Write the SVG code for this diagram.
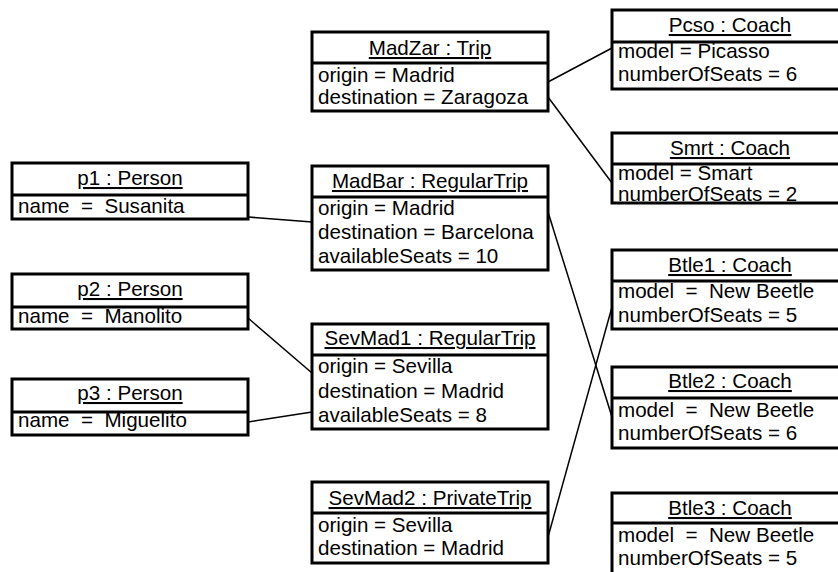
<svg xmlns="http://www.w3.org/2000/svg" width="838" height="572" viewBox="0 0 838 572">
<style>
.box{fill:#fff;stroke:#000;stroke-width:3}
.div{stroke:#000;stroke-width:3}
.t{font-family:"Liberation Sans",Arial,sans-serif;font-size:20.6px;fill:#000}
.ttl{text-anchor:middle;text-decoration:underline}
.a{white-space:pre}
.c{stroke:#000;stroke-width:1.5;fill:none}
</style>
<rect width="838" height="572" fill="#fff"/>
<g id="connectors">
<line class="c" x1="248" y1="217" x2="312" y2="222"/>
<line class="c" x1="248" y1="318" x2="312" y2="373"/>
<line class="c" x1="248" y1="422" x2="312" y2="412"/>
<line class="c" x1="548" y1="82" x2="612" y2="48"/>
<line class="c" x1="548" y1="97" x2="612" y2="183"/>
<line class="c" x1="548" y1="212" x2="612" y2="417"/>
<line class="c" x1="548" y1="537" x2="612" y2="307"/>
</g>
<g id="MadZar">
<rect class="box" x="312" y="32" width="236" height="79"/>
<line class="div" x1="312" y1="63" x2="548" y2="63"/>
<text class="t ttl" x="430" y="55">MadZar : Trip</text>
<text class="t a" x="318" y="82">origin = Madrid</text>
<text class="t a" x="318" y="104">destination = Zaragoza</text>
</g>
<g id="Pcso">
<rect class="box" x="612" y="10" width="236" height="79"/>
<line class="div" x1="612" y1="42" x2="848" y2="42"/>
<text class="t ttl" x="730" y="32">Pcso : Coach</text>
<text class="t a" x="618" y="58">model = Picasso</text>
<text class="t a" x="618" y="81">numberOfSeats = 6</text>
</g>
<g id="Smrt">
<rect class="box" x="612" y="133" width="236" height="70"/>
<line class="div" x1="612" y1="164" x2="848" y2="164"/>
<text class="t ttl" x="730" y="155">Smrt : Coach</text>
<text class="t a" x="618" y="180">model = Smart</text>
<text class="t a" x="618" y="201">numberOfSeats = 2</text>
</g>
<g id="p1">
<rect class="box" x="12" y="163" width="236" height="56"/>
<line class="div" x1="12" y1="195" x2="248" y2="195"/>
<text class="t ttl" x="130" y="185">p1 : Person</text>
<text class="t a" x="18" y="213">name  =  Susanita</text>
</g>
<g id="MadBar">
<rect class="box" x="312" y="166" width="236" height="104"/>
<line class="div" x1="312" y1="197" x2="548" y2="197"/>
<text class="t ttl" x="430" y="188">MadBar : RegularTrip</text>
<text class="t a" x="318" y="215">origin = Madrid</text>
<text class="t a" x="318" y="239">destination = Barcelona</text>
<text class="t a" x="318" y="263">availableSeats = 10</text>
</g>
<g id="p2">
<rect class="box" x="12" y="274" width="236" height="55"/>
<line class="div" x1="12" y1="307" x2="248" y2="307"/>
<text class="t ttl" x="130" y="296">p2 : Person</text>
<text class="t a" x="18" y="323">name  =  Manolito</text>
</g>
<g id="SevMad1">
<rect class="box" x="312" y="324" width="236" height="105"/>
<line class="div" x1="312" y1="355" x2="548" y2="355"/>
<text class="t ttl" x="430" y="345">SevMad1 : RegularTrip</text>
<text class="t a" x="318" y="373">origin = Sevilla</text>
<text class="t a" x="318" y="398">destination = Madrid</text>
<text class="t a" x="318" y="422">availableSeats = 8</text>
</g>
<g id="p3">
<rect class="box" x="12" y="379" width="236" height="56"/>
<line class="div" x1="12" y1="412" x2="248" y2="412"/>
<text class="t ttl" x="130" y="400">p3 : Person</text>
<text class="t a" x="18" y="427">name  =  Miguelito</text>
</g>
<g id="Btle1">
<rect class="box" x="612" y="250" width="236" height="79"/>
<line class="div" x1="612" y1="281" x2="848" y2="281"/>
<text class="t ttl" x="730" y="272">Btle1 : Coach</text>
<text class="t a" x="618" y="298">model  =  New Beetle</text>
<text class="t a" x="618" y="322">numberOfSeats = 5</text>
</g>
<g id="Btle2">
<rect class="box" x="612" y="367" width="236" height="81"/>
<line class="div" x1="612" y1="398" x2="848" y2="398"/>
<text class="t ttl" x="730" y="388">Btle2 : Coach</text>
<text class="t a" x="618" y="417">model  =  New Beetle</text>
<text class="t a" x="618" y="440">numberOfSeats = 6</text>
</g>
<g id="Btle3">
<rect class="box" x="612" y="493" width="236" height="90"/>
<line class="div" x1="612" y1="523" x2="848" y2="523"/>
<text class="t ttl" x="730" y="515">Btle3 : Coach</text>
<text class="t a" x="618" y="542">model  =  New Beetle</text>
<text class="t a" x="618" y="565">numberOfSeats = 5</text>
</g>
<g id="SevMad2">
<rect class="box" x="312" y="482" width="236" height="81"/>
<line class="div" x1="312" y1="513" x2="548" y2="513"/>
<text class="t ttl" x="430" y="505">SevMad2 : PrivateTrip</text>
<text class="t a" x="318" y="532">origin = Sevilla</text>
<text class="t a" x="318" y="555">destination = Madrid</text>
</g>
</svg>
